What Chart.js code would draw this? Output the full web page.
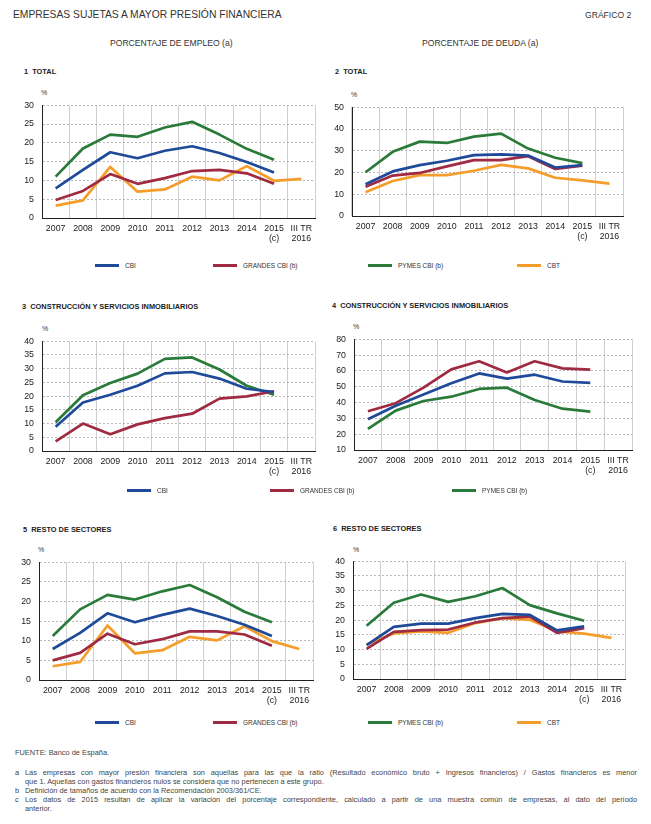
<!DOCTYPE html>
<html><head><meta charset="utf-8">
<script src="https://cdn.jsdelivr.net/npm/chart.js@4/dist/chart.umd.min.js"></script>
<style>
body{margin:0;background:#fff;font-family:"Liberation Sans",Arial,sans-serif;color:#333;}
#wrap{position:relative;width:651px;height:824px;overflow:hidden;}
.t{position:absolute;white-space:nowrap;line-height:1;}
.pt{position:absolute;white-space:nowrap;line-height:1;font-size:7.4px;font-weight:bold;color:#222;}
canvas{position:absolute;}
.lg{position:absolute;font-size:6.5px;color:#333;display:flex;align-items:center;white-space:nowrap;}
.lg span.sw{display:inline-block;width:24px;height:3px;margin-right:6px;}
.fn{position:absolute;left:15px;font-size:7.4px;line-height:9px;color:#444;white-space:nowrap;}
.fj{position:absolute;left:25px;width:612px;font-size:7.4px;line-height:9px;color:#444;text-align:justify;text-align-last:justify;white-space:normal;}
</style></head><body><div id="wrap">
<div class="t" style="left:13px;top:10px;font-size:10.3px;color:#333;">EMPRESAS SUJETAS A MAYOR PRESIÓN FINANCIERA</div>
<div class="t" style="left:585px;top:11px;font-size:8.6px;">GRÁFICO 2</div>
<div class="t" style="left:110px;top:39px;font-size:8.6px;">PORCENTAJE DE EMPLEO (a)</div>
<div class="t" style="left:422px;top:39px;font-size:8.6px;">PORCENTAJE DE DEUDA (a)</div>
<div class="pt" style="left:24px;top:68px;">1&nbsp; TOTAL</div>
<div class="pt" style="left:335px;top:68px;">2&nbsp; TOTAL</div>
<div class="pt" style="left:22px;top:303px;">3&nbsp; CONSTRUCCIÓN Y SERVICIOS INMOBILIARIOS</div>
<div class="pt" style="left:332px;top:302px;">4&nbsp; CONSTRUCCIÓN Y SERVICIOS INMOBILIARIOS</div>
<div class="pt" style="left:23px;top:526px;">5&nbsp; RESTO DE SECTORES</div>
<div class="pt" style="left:333px;top:525px;">6&nbsp; RESTO DE SECTORES</div>
<div class="t" style="left:41px;top:89px;font-size:7px;">%</div>
<div class="t" style="left:351px;top:91px;font-size:7px;">%</div>
<div class="t" style="left:42px;top:325px;font-size:7px;">%</div>
<div class="t" style="left:353px;top:323px;font-size:7px;">%</div>
<div class="t" style="left:38px;top:546px;font-size:7px;">%</div>
<div class="t" style="left:353px;top:546px;font-size:7px;">%</div>
<canvas id="c1"></canvas><canvas id="c2"></canvas><canvas id="c3"></canvas>
<canvas id="c4"></canvas><canvas id="c5"></canvas><canvas id="c6"></canvas>
<div id="legends"></div>
<div class="fn" style="top:748px;">FUENTE: Banco de España.</div>
<div class="fn" style="top:768px;">a</div>
<div class="fj" style="top:768px;">Las empresas con mayor presión financiera son aquellas para las que la ratio (Resultado económico bruto + Ingresos financieros) / Gastos financieros es menor</div>
<div class="fn" style="top:777px;left:25px;">que 1. Aquellas con gastos financieros nulos se considera que no pertenecen a este grupo.</div>
<div class="fn" style="top:786px;">b</div>
<div class="fn" style="top:786px;left:25px;">Definición de tamaños de acuerdo con la Recomendación 2003/361/CE.</div>
<div class="fn" style="top:795px;">c</div>
<div class="fj" style="top:795px;">Los datos de 2015 resultan de aplicar la variación del porcentaje correspondiente, calculado a partir de una muestra común de empresas, al dato del período</div>
<div class="fn" style="top:804px;left:25px;">anterior.</div>
</div>
<script>
const categories = ['2007','2008','2009','2010','2011','2012','2013','2014',['2015','(c)'],['III TR','2016']];
const seriesNames = {cbi:'CBI', grandes:'GRANDES CBI (b)', pymes:'PYMES CBI (b)', cbt:'CBT'};

// Panel 1: employment, total
const empTotalCBI     = [7.9,12.8,17.5,15.9,17.9,19.1,17.3,14.9,12.1,null];
const empTotalGrandes = [4.8,7.2,11.7,9.1,10.6,12.5,12.8,11.9,9.1,null];
const empTotalPymes   = [11.0,18.5,22.2,21.6,24.1,25.6,22.2,18.4,15.5,null];
const empTotalCBT     = [3.3,4.7,13.6,7.0,7.6,11.0,10.0,13.8,9.9,10.4];
// Panel 2: debt, total
const debtTotalCBI     = [14.6,20.5,23.4,25.4,28.0,28.3,27.8,22.3,23.4,null];
const debtTotalGrandes = [13.4,18.6,19.8,22.8,25.7,25.7,27.5,21.6,23.1,null];
const debtTotalPymes   = [20.1,29.5,34.2,33.6,36.5,37.9,31.0,26.8,24.3,null];
const debtTotalCBT     = [10.9,16.1,18.8,18.8,20.8,23.5,21.9,17.6,16.4,14.9];
// Panel 3: employment, construction
const empConsCBI     = [8.8,17.7,20.5,23.8,28.3,28.8,26.4,22.7,21.5,null];
const empConsGrandes = [3.5,10.0,6.1,9.7,12.0,13.6,19.1,19.9,21.8,null];
const empConsPymes   = [10.5,20.3,24.8,28.2,33.6,34.1,29.7,23.8,20.5,null];
// Panel 4: debt, construction
const debtConsCBI     = [29.4,38.0,45.1,52.2,58.4,55.1,57.6,53.3,52.4,null];
const debtConsGrandes = [34.5,39.6,49.4,61.0,66.1,59.0,66.1,61.6,60.8,null];
const debtConsPymes   = [23.3,34.9,41.0,43.7,48.6,49.4,41.6,36.1,34.3,null];
// Panel 5: employment, rest of sectors
const empRestCBI     = [7.9,12.0,17.0,14.7,16.6,18.2,16.3,14.1,11.2,null];
const empRestGrandes = [5.0,6.9,11.8,9.1,10.4,12.4,12.4,11.6,8.7,null];
const empRestPymes   = [11.2,18.0,21.7,20.5,22.6,24.2,21.1,17.4,14.7,null];
const empRestCBT     = [3.5,4.6,13.9,6.8,7.6,11.0,10.1,13.7,9.9,7.9];
// Panel 6: debt, rest of sectors
const debtRestCBI     = [11.5,17.7,18.8,18.8,20.7,22.1,21.8,16.5,17.9,null];
const debtRestGrandes = [10.2,16.0,16.6,16.8,19.2,20.7,21.2,15.7,17.3,null];
const debtRestPymes   = [18.1,25.9,28.7,26.2,28.1,30.9,25.1,22.3,19.8,null];
const debtRestCBT     = [11.7,15.5,16.2,15.7,19.0,20.7,20.1,16.2,15.4,14.0];

// y axis ranges: [min, max, step]
const yTicks = {p1:[0,30,5], p2:[0,50,10], p3:[0,40,5], p4:[10,80,10], p5:[0,30,5], p6:[0,40,5]};

const COL = {cbi:'#1f4a99', grandes:'#a02a42', pymes:'#2a7b3a', cbt:'#f59d2a'};

function ds(key, data){
  return {label:seriesNames[key], data:data, borderColor:COL[key], backgroundColor:COL[key],
    borderWidth:2.7, pointRadius:0, tension:0, spanGaps:false, borderCapStyle:'butt', borderJoinStyle:'round'};
}

function panel(id, plot, sets, ticks){
  const PL=45, PT=10, PR=10, PB=36;
  const cv = document.getElementById(id);
  const w = plot.r-plot.l+PL+PR, h = plot.b-plot.t+PT+PB;
  cv.style.left=(plot.l-PL)+'px'; cv.style.top=(plot.t-PT)+'px';
  cv.style.width=w+'px'; cv.style.height=h+'px'; cv.width=w; cv.height=h;
  new Chart(cv, {
    type:'line',
    data:{labels:categories, datasets:sets},
    options:{
      responsive:false, animation:false, maintainAspectRatio:false,
      layout:{padding:{left:0,top:PT,right:PR,bottom:0}},
      plugins:{legend:{display:false}, tooltip:{enabled:false}},
      scales:{
        x:{offset:true,
          grid:{offset:true, color:'#cfcfcf', lineWidth:1, drawTicks:false},
          border:{color:'#222', width:1},
          ticks:{color:'#222', font:{family:'Liberation Sans', size:8.8}, padding:5, maxRotation:0, autoSkip:false},
          afterFit:s=>{s.height=PB;}
        },
        y:{min:ticks[0], max:ticks[1],
          grid:{color:'#a8a8a8', lineWidth:0.8, drawTicks:false},
          border:{color:'#222', width:1, dash:[2,2]},
          ticks:{stepSize:ticks[2], color:'#222', font:{family:'Liberation Sans', size:8.8}, padding:8},
          afterFit:s=>{s.width=PL;}
        }
      }
    }
  });
}

panel('c1',{l:42,r:315,t:102,b:218},[ds('cbi',empTotalCBI),ds('grandes',empTotalGrandes),ds('pymes',empTotalPymes),ds('cbt',empTotalCBT)],yTicks.p1);
panel('c2',{l:352,r:623,t:104,b:216},[ds('cbi',debtTotalCBI),ds('grandes',debtTotalGrandes),ds('pymes',debtTotalPymes),ds('cbt',debtTotalCBT)],yTicks.p2);
panel('c3',{l:42,r:315,t:338,b:451},[ds('cbi',empConsCBI),ds('grandes',empConsGrandes),ds('pymes',empConsPymes)],yTicks.p3);
panel('c4',{l:354,r:632,t:336,b:450},[ds('cbi',debtConsCBI),ds('grandes',debtConsGrandes),ds('pymes',debtConsPymes)],yTicks.p4);
panel('c5',{l:39,r:313,t:559,b:680},[ds('cbi',empRestCBI),ds('grandes',empRestGrandes),ds('pymes',empRestPymes),ds('cbt',empRestCBT)],yTicks.p5);
panel('c6',{l:353,r:625,t:558,b:679},[ds('cbi',debtRestCBI),ds('grandes',debtRestGrandes),ds('pymes',debtRestPymes),ds('cbt',debtRestCBT)],yTicks.p6);

const legendItems = [
  ['cbi',95,265],['grandes',213,265],['pymes',368,265],['cbt',517,265],
  ['cbi',127,490],['grandes',270,490],['pymes',452,490],
  ['cbi',95,722],['grandes',213,722],['pymes',368,722],['cbt',517,722]
];
const lg = document.getElementById('legends');
legendItems.forEach(([k,x,y])=>{
  const d=document.createElement('div'); d.className='lg';
  d.style.left=x+'px'; d.style.top=(y-5)+'px'; d.style.height='10px';
  d.innerHTML='<span class="sw" style="background:'+COL[k]+'"></span>'+seriesNames[k];
  lg.appendChild(d);
});
</script>
</body></html>
